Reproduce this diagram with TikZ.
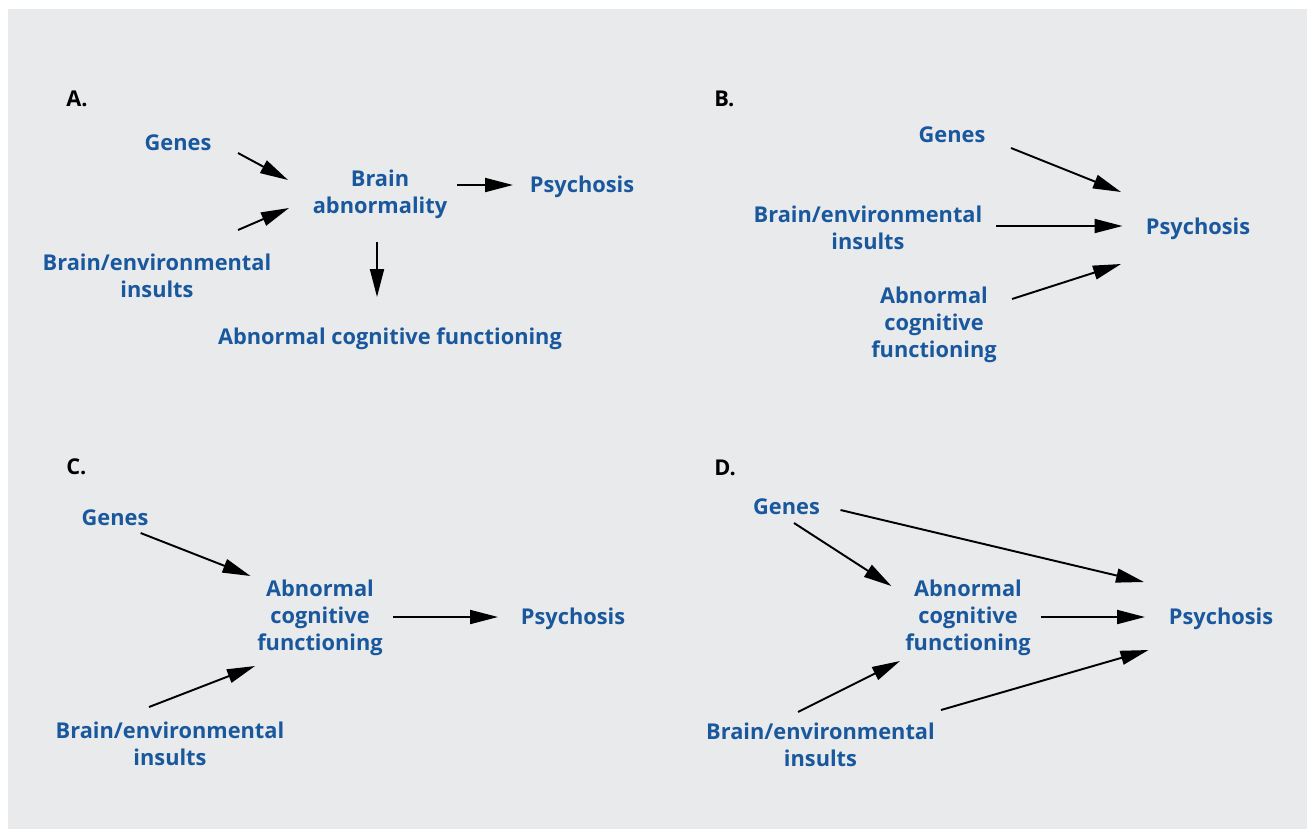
\documentclass[tikz,border=0pt]{standalone}
\usepackage{fontspec}
\setmainfont{Open Sans}
\usetikzlibrary{arrows.meta,calc}
\definecolor{sfondo}{RGB}{233,234,236}
\definecolor{testo}{RGB}{26,88,158}
\tikzset{
>={Triangle[length=5.6mm,width=2.8mm]},
main node/.style={text=testo,font=\fontsize{12.4}{15.4}\selectfont\bfseries,align=center,inner sep=0pt},
letter node/.style={font=\fontsize{12.4}{15.4}\selectfont\bfseries,anchor=west,inner sep=0pt},
cause/.style={->,line width=1.1pt}}
\begin{document}
\begin{tikzpicture}[x=0.02cm,y=-0.02cm]

\useasboundingbox (0,0) rectangle (1307,829);
\fill[white] (0,0) rectangle (1307,829);
\fill[sfondo] (8,9) rectangle (1307,829);

% A.
\node[letter node] (labA) at (66,99) {A.};
\node[main node] (genesA) at (178,143) {Genes};
\node[main node] (brainA) at (380,194.5) {Brain\\abnormality};
\node[main node] (psyA) at (582,187) {Psychosis};
\node[main node] (insultA) at (157,275.5) {Brain/environmental\\insults};
\node[main node] (cogA) at (390,339) {Abnormal cognitive functioning};

\draw[cause] ($(genesA)+(60,10)$) -- ($(brainA)+(-92,-14.5)$);
\draw[cause] ($(insultA)+(81,-45.5)$) -- ($(brainA)+(-91,13.5)$);
\draw[cause] ($(brainA)+(77,-9.5)$) -- ($(psyA)+(-69,-2)$);
\draw[cause] ($(brainA)+(-3,47.5)$) -- ($(cogA)+(-13,-42)$);

% B.
\node[letter node] (labB) at (714,99) {B.};
\node[main node] (genesB) at (952,135) {Genes};
\node[main node] (insultB) at (868,228) {Brain/environmental\\insults};
\node[main node] (cogB) at (934,325) {Abnormal\\cognitive\\functioning};
\node[main node] (psyB) at (1198,229) {Psychosis};

\draw[cause] ($(genesB)+(59,13)$) -- ($(psyB)+(-77,-37)$);
\draw[cause] ($(insultB)+(128,-2)$) -- ($(psyB)+(-75.5,-3)$);
\draw[cause] ($(cogB)+(78,-26)$) -- ($(psyB)+(-77,35)$);

% C.
\node[letter node] (labC) at (66,467) {C.};
\node[main node] (genesC) at (115,518) {Genes};
\node[main node] (cogC) at (320,618) {Abnormal\\cognitive\\functioning};
\node[main node] (psyC) at (573,619) {Psychosis};
\node[main node] (insultC) at (170,743.5) {Brain/environmental\\insults};

\draw[cause] ($(genesC)+(25.6,15)$) -- ($(cogC)+(-69.5,-42)$);
\draw[cause] ($(insultC)+(-21,-36.5)$) -- ($(cogC)+(-65,48)$);
\draw[cause] ($(cogC)+(73,-1)$) -- ($(psyC)+(-75,-2)$);

% D.
\node[letter node] (labD) at (714,468) {D.};
\node[main node] (genesD) at (786.5,507) {Genes};
\node[main node] (cogD) at (968,618) {Abnormal\\cognitive\\functioning};
\node[main node] (psyD) at (1221,619) {Psychosis};
\node[main node] (insultD) at (820.5,745) {Brain/environmental\\insults};

\draw[cause] ($(genesD)+(7.5,16)$) -- ($(cogD)+(-76.6,-32)$);
\draw[cause] ($(genesD)+(54,3)$) -- ($(psyD)+(-77,-37)$);
\draw[cause] ($(cogD)+(72.6,-1)$) -- ($(psyD)+(-76,-2)$);
\draw[cause] ($(insultD)+(-22.5,-33)$) -- ($(cogD)+(-68,43)$);
\draw[cause] ($(insultD)+(120.5,-35)$) -- ($(psyD)+(-72.5,31)$);

\end{tikzpicture}
\end{document}
